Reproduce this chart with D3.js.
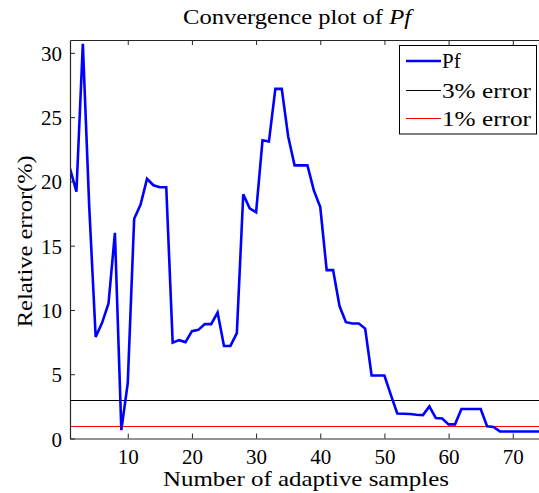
<!DOCTYPE html>
<html>
<head>
<meta charset="utf-8">
<script src="https://cdn.jsdelivr.net/npm/d3@7"></script>
<style>
  html, body { margin: 0; padding: 0; background: #fff; }
</style>
</head>
<body>
<svg id="chart" width="539" height="493"></svg>
<script>
// ---- data ----
const pfError = [
  21.0, 19.2, 30.7, 18.0, 7.9, 9.0, 10.5, 16.0, 0.65, 4.3,
  17.1, 18.2, 20.2, 19.7, 19.55, 19.55, 7.45, 7.65, 7.5, 8.35,
  8.45, 8.9, 8.9, 9.8, 7.2, 7.2, 8.2, 19.0, 17.9, 17.6,
  23.2, 23.1, 27.2, 27.2, 23.5, 21.25, 21.25, 21.25, 19.3, 18.0,
  13.1, 13.1, 10.3, 9.05, 8.95, 8.95, 8.55, 4.9, 4.9, 4.9,
  3.4, 1.95, 1.93, 1.9, 1.85, 1.82, 2.5, 1.6, 1.55, 1.1,
  1.1, 2.3, 2.3, 2.3, 2.3, 0.95, 0.9, 0.55, 0.55, 0.55,
  0.55, 0.55, 0.55, 0.55, 0.55
];
const errorLevels = [3, 1];
const legendLabels = ["Pf", "3% error", "1% error"];
const xTicks = [10, 20, 30, 40, 50, 60, 70];
const yTicks = [0, 5, 10, 15, 20, 25, 30];
const xDomain = [1, 75];
const yDomain = [0, 31];

// ---- layout ----
const svg = d3.select("#chart");
const mLeft = 70, mTop = 40, mBottom = 438.5;
const pxPerUnit = 6.417;
const mRight = mLeft + (xDomain[1] - xDomain[0]) * pxPerUnit;
const serif = '"Liberation Serif", "Times New Roman", Times, Tinos, "DejaVu Serif", "Noto Serif", serif';

const x = d3.scaleLinear().domain(xDomain).range([mLeft, mRight]);
const y = d3.scaleLinear().domain(yDomain).range([mBottom, mTop]);

svg.append("rect").attr("width", 539).attr("height", 493).attr("fill", "#fff");

svg.append("defs").append("clipPath").attr("id", "clip")
  .append("rect").attr("x", mLeft).attr("y", mTop).attr("width", mRight - mLeft).attr("height", mBottom - mTop);

const plot = svg.append("g").attr("clip-path", "url(#clip)");

// error reference lines (snapped to pixel centres for crispness)
const levelColors = ["#000000", "#ff0000"];
errorLevels.forEach((lv, i) => {
  const yy = Math.round(y(lv)) + 0.5;
  plot.append("line")
    .attr("x1", mLeft).attr("x2", mRight)
    .attr("y1", yy).attr("y2", yy)
    .attr("stroke", levelColors[i]).attr("stroke-width", 1);
});

// Pf line
const line = d3.line().x((d, i) => x(i + 1)).y(d => y(d));
plot.append("path").datum(pfError)
  .attr("d", line)
  .attr("fill", "none")
  .attr("stroke", "#0000ff")
  .attr("stroke-width", 2.6)
  .attr("stroke-linejoin", "miter");

// axes
const axisColor = "#262626";
const tickLen = 5;
const fs = 21;

const gxb = svg.append("g").attr("transform", `translate(0,${mBottom})`)
  .call(d3.axisBottom(x).tickValues(xTicks).tickSizeInner(-tickLen).tickSizeOuter(0));
const gxt = svg.append("g").attr("transform", `translate(0,${mTop})`)
  .call(d3.axisTop(x).tickValues(xTicks).tickSizeInner(-tickLen).tickSizeOuter(0).tickFormat(""));
const gyl = svg.append("g").attr("transform", `translate(${mLeft},0)`)
  .call(d3.axisLeft(y).tickValues(yTicks).tickSizeInner(-tickLen).tickSizeOuter(0));

[gxb, gxt, gyl].forEach(g => {
  g.attr("font-family", serif);
  g.select(".domain").attr("stroke", axisColor).attr("stroke-width", 1.2);
  g.selectAll(".tick line").attr("stroke", axisColor).attr("stroke-width", 1);
  g.selectAll(".tick text")
    .attr("font-family", serif)
    .attr("font-size", fs).attr("fill", "#000");
});
gxb.selectAll(".tick text").attr("y", 11).attr("dy", "0.71em");
gyl.selectAll(".tick text").attr("x", -8).attr("dy", "0.36em");

// title
const title = svg.append("text")
  .attr("x", 297).attr("y", 24)
  .attr("text-anchor", "middle")
  .attr("font-family", serif)
  .attr("font-size", fs)
  .attr("textLength", 228).attr("lengthAdjust", "spacingAndGlyphs");
title.append("tspan").text("Convergence plot of ");
title.append("tspan").attr("font-style", "italic").text("Pf");

// x label
svg.append("text")
  .attr("x", 306).attr("y", 486)
  .attr("text-anchor", "middle")
  .attr("font-family", serif)
  .attr("font-size", fs)
  .attr("textLength", 286).attr("lengthAdjust", "spacingAndGlyphs")
  .text("Number of adaptive samples");

// y label
svg.append("text")
  .attr("transform", `translate(32,${(mTop + mBottom) / 2 + 2}) rotate(-90)`)
  .attr("text-anchor", "middle")
  .attr("font-family", serif)
  .attr("font-size", fs)
  .attr("textLength", 172).attr("lengthAdjust", "spacingAndGlyphs")
  .text("Relative error(%)");

// legend
const lg = svg.append("g");
lg.append("rect")
  .attr("x", 399.5).attr("y", 45.5).attr("width", 137).attr("height", 88.5)
  .attr("fill", "#fff").attr("stroke", "#000").attr("stroke-width", 1);
const legendStyles = [
  { color: "#0000ff", width: 2.6 },
  { color: "#000000", width: 1 },
  { color: "#ff0000", width: 1 }
];
const rowY = [61, 90.5, 118.5];
legendLabels.forEach((lab, i) => {
  lg.append("line")
    .attr("x1", 406).attr("x2", 441)
    .attr("y1", rowY[i]).attr("y2", rowY[i])
    .attr("stroke", legendStyles[i].color).attr("stroke-width", legendStyles[i].width);
  const t = lg.append("text")
    .attr("x", 442).attr("y", Math.round(rowY[i]) + 7)
    .attr("font-family", serif)
    .attr("font-size", fs)
    .text(lab);
  if (i > 0) t.attr("textLength", 89).attr("lengthAdjust", "spacingAndGlyphs");
});
</script>
</body>
</html>
